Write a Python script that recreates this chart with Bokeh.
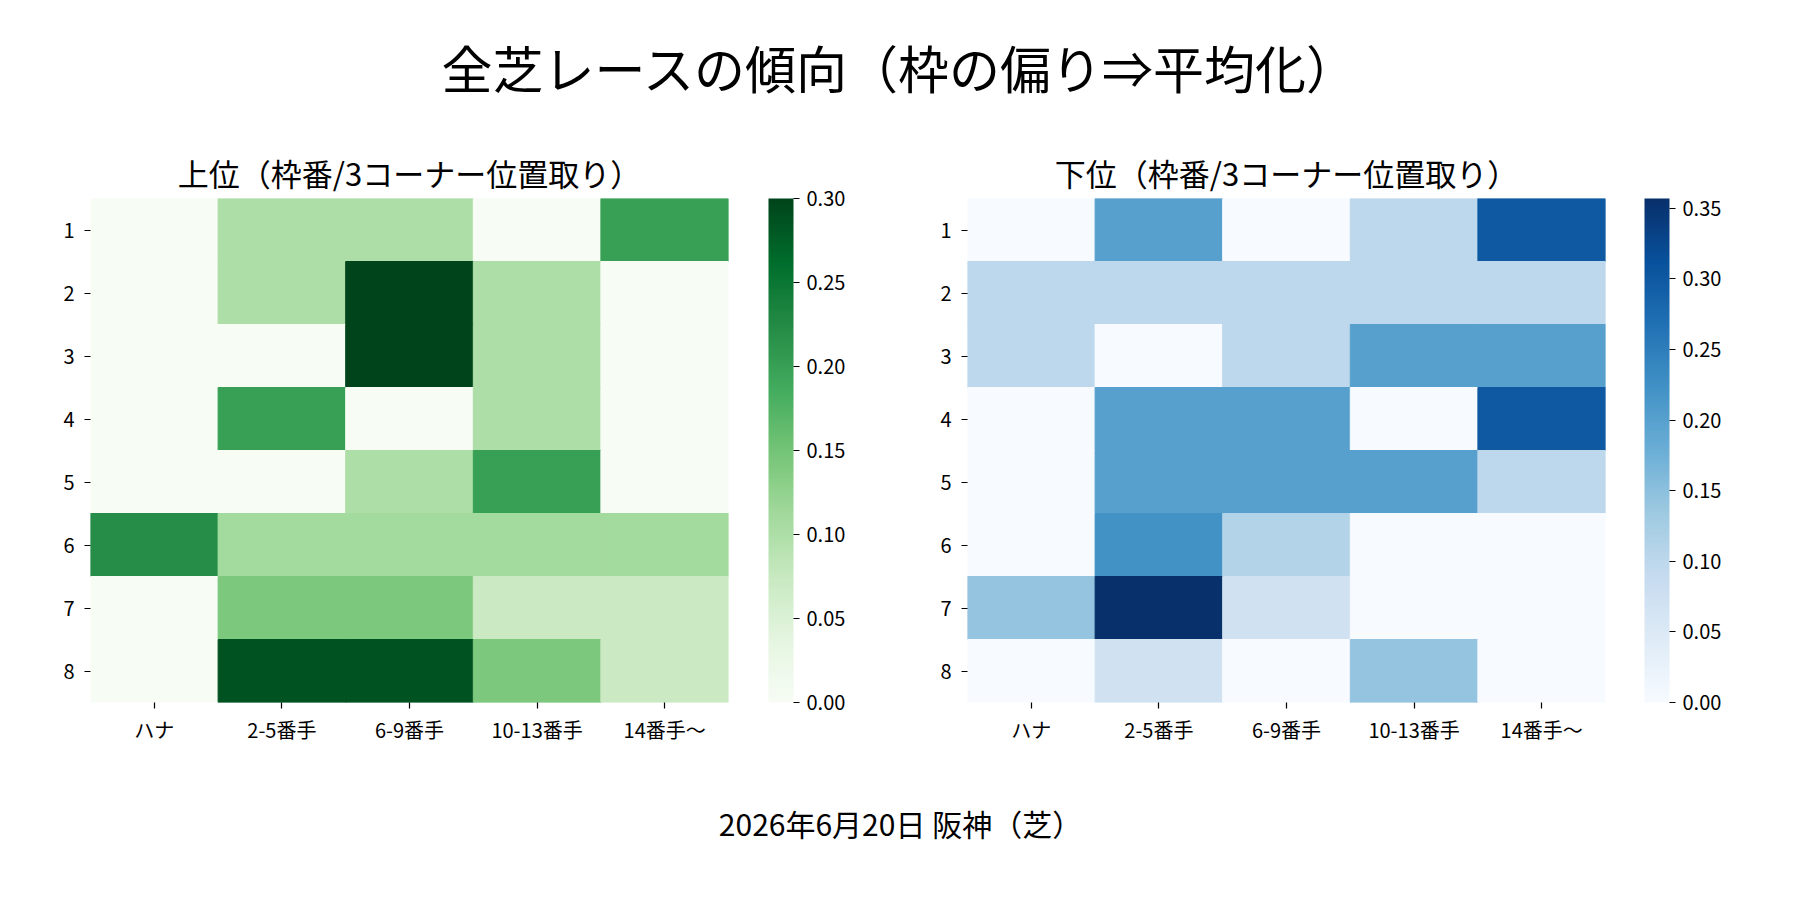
from bokeh.plotting import figure
from bokeh.models import (ColumnDataSource, FactorRange, Range1d, LinearColorMapper,
                          ColorBar, FixedTicker, PrintfTickFormatter)
from bokeh.layouts import column, row
from bokeh.palettes import Greens256, Blues256
from bokeh.transform import transform
from bokeh.core.properties import value
from bokeh.embed import file_html
from bokeh.resources import INLINE

FONT = "Noto Sans CJK JP"

# ---------------- data ----------------
suptitle = "全芝レースの傾向（枠の偏り⇒平均化）"
footer = "2026年6月20日 阪神（芝）"
title_top = "上位（枠番/3コーナー位置取り）"
title_bottom = "下位（枠番/3コーナー位置取り）"

frames = ["1", "2", "3", "4", "5", "6", "7", "8"]
positions = ["ハナ", "2-5番手", "6-9番手", "10-13番手", "14番手〜"]

# 上位 (rows = 枠番 1..8, cols = positions)
top_values = [
    [0.000, 0.100, 0.100, 0.000, 0.200],
    [0.000, 0.100, 0.300, 0.100, 0.000],
    [0.000, 0.000, 0.300, 0.100, 0.000],
    [0.000, 0.200, 0.000, 0.100, 0.000],
    [0.000, 0.000, 0.100, 0.200, 0.000],
    [0.222, 0.111, 0.111, 0.111, 0.111],
    [0.000, 0.143, 0.143, 0.071, 0.071],
    [0.000, 0.286, 0.286, 0.143, 0.071],
]

# 下位
bottom_values = [
    [0.000, 0.200, 0.000, 0.100, 0.300],
    [0.100, 0.100, 0.100, 0.100, 0.100],
    [0.100, 0.000, 0.100, 0.200, 0.200],
    [0.000, 0.200, 0.200, 0.000, 0.300],
    [0.000, 0.200, 0.200, 0.200, 0.100],
    [0.000, 0.222, 0.111, 0.000, 0.000],
    [0.143, 0.357, 0.071, 0.000, 0.000],
    [0.000, 0.071, 0.000, 0.143, 0.000],
]

top_ticks = [0.00, 0.05, 0.10, 0.15, 0.20, 0.25, 0.30]
bottom_ticks = [0.00, 0.05, 0.10, 0.15, 0.20, 0.25, 0.30, 0.35]


def light_to_dark(pal):
    pal = list(pal)
    def lum(h):
        h = h.lstrip("#")
        return int(h[0:2], 16) + int(h[2:4], 16) + int(h[4:6], 16)
    if lum(pal[0]) < lum(pal[-1]):
        pal = pal[::-1]
    return pal


def heatmap(values, palette, ticks, title, width, left, right, cb_x):
    xs, ys, vs = [], [], []
    for i, f in enumerate(frames):
        for j, pos in enumerate(positions):
            xs.append(pos)
            ys.append(f)
            vs.append(values[i][j])
    src = ColumnDataSource(dict(x=xs, y=ys, v=vs))
    mapper = LinearColorMapper(palette=light_to_dark(palette), low=0, high=max(vs))

    p = figure(width=width, height=632,
               x_range=FactorRange(factors=positions),
               y_range=FactorRange(factors=list(reversed(frames))),
               output_backend="svg", toolbar_location=None,
               min_border_left=left, min_border_right=right,
               min_border_top=70, min_border_bottom=58,
               title=title)
    p.rect(x="x", y="y", width=1, height=1, source=src,
           fill_color=transform("v", mapper),
           line_color=transform("v", mapper), line_width=1)

    p.title.text_font = FONT
    p.title.text_font_size = "31px"
    p.title.text_font_style = "normal"
    p.title.align = "center"
    p.title.text_color = "black"
    p.title.standoff = 8

    p.outline_line_color = None
    p.grid.grid_line_color = None
    for ax in (p.xaxis, p.yaxis):
        ax.axis_line_color = None
        ax.major_tick_in = 0
        ax.major_tick_out = 6
        ax.major_tick_line_color = "black"
        ax.major_tick_line_width = 1.2
        ax.minor_tick_line_color = None
        ax.major_label_text_font = FONT
        ax.major_label_text_font_size = "20px"
        ax.major_label_text_color = "black"
    p.xaxis.major_label_standoff = 6
    p.yaxis.major_label_standoff = 10

    cb = ColorBar(color_mapper=mapper, location=(cb_x, 0), width=25, height=504,
                  padding=0, margin=0,
                  ticker=FixedTicker(ticks=ticks),
                  formatter=PrintfTickFormatter(format="%.2f"),
                  major_label_text_font=FONT,
                  major_label_text_font_size="20px",
                  major_label_text_color="black",
                  major_tick_out=6, major_tick_in=0,
                  major_tick_line_color="black", major_tick_line_width=1.2,
                  minor_tick_line_color=None,
                  bar_line_color=None, border_line_color=None,
                  background_fill_alpha=0, label_standoff=7)
    p.add_layout(cb, "center")
    return p


def text_fig(txt, height, yfrac, size):
    p = figure(width=1792, height=height, x_range=Range1d(0, 1), y_range=Range1d(0, 1),
               output_backend="svg", toolbar_location=None,
               x_axis_type=None, y_axis_type=None,
               min_border=0)
    p.outline_line_color = None
    p.grid.visible = False
    src = ColumnDataSource(dict(x=[900 / 1792], y=[yfrac], t=[txt]))
    p.text(x="x", y="y", text="t", source=src, text_font=value(FONT),
           text_font_size=size, text_align="center", text_baseline="middle",
           text_color="black")
    return p


top = text_fig(suptitle, 128, 1 - 66 / 128, "51px")
f1 = heatmap(top_values, Greens256, top_ticks, title_top, 900, 90, 172, 678)
f2 = heatmap(bottom_values, Blues256, bottom_ticks, title_bottom, 892, 67, 187, 677)
bottom = text_fig(footer, 140, 1 - 62 / 140, "30px")

layout = column(top, row(f1, f2), bottom)

open("out.html", "w").write(file_html(layout, INLINE))
